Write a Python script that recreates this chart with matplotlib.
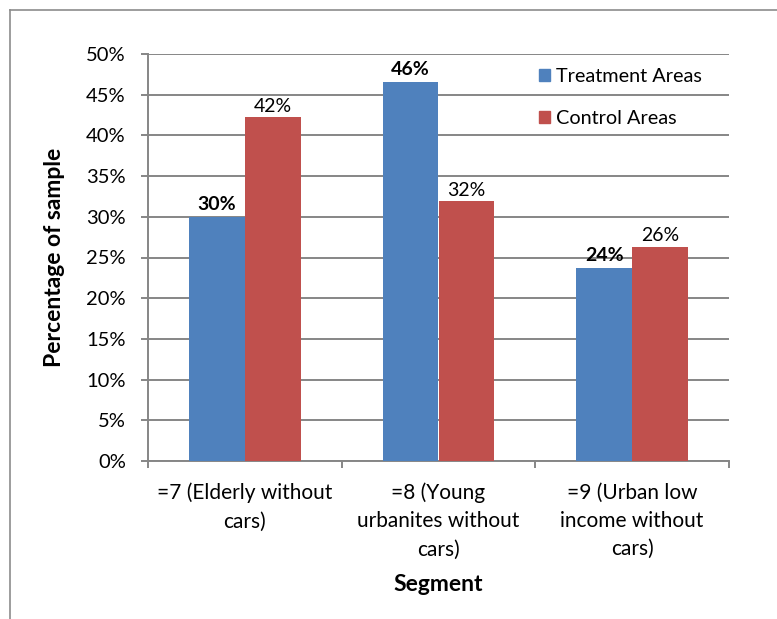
import matplotlib
matplotlib.use("Agg")
import matplotlib.pyplot as plt
from matplotlib.lines import Line2D
from matplotlib.patches import Patch
import numpy as np

plt.rcParams['font.family'] = ['Lato', 'DejaVu Sans']

categories = ["=7 (Elderly without\ncars)",
              "=8 (Young\nurbanites without\ncars)",
              "=9 (Urban low\nincome without\ncars)"]
treatment = [30.0, 46.6, 23.7]
control = [42.2, 31.9, 26.3]
treatment_labels = ["30%", "46%", "24%"]
control_labels = ["42%", "32%", "26%"]
series_names = ["Treatment Areas", "Control Areas"]
y_ticks = [0, 5, 10, 15, 20, 25, 30, 35, 40, 45, 50]

BLUE = "#4F81BD"
RED = "#C0504D"
GRID = "#868686"

W, H = 777, 619
fig = plt.figure(figsize=(W / 100, H / 100), dpi=100)
ax = fig.add_axes([148 / W, 1 - 461 / H, (729 - 148) / W, (461 - 54) / H])

x = np.arange(len(categories))
bw = 0.289
ax.bar(x - bw / 2, treatment, bw, color=BLUE, zorder=3)
ax.bar(x + bw / 2, control, bw, color=RED, zorder=3)

for xi, v, t in zip(x, treatment, treatment_labels):
    ax.annotate(t, (xi - bw / 2, v), xytext=(0, 3), textcoords="offset points",
                ha="center", va="bottom", fontsize=14, fontweight="bold", color="black")
for xi, v, t in zip(x, control, control_labels):
    ax.annotate(t, (xi + bw / 2, v), xytext=(0, 2), textcoords="offset points",
                ha="center", va="bottom", fontsize=14, color="black")

ax.set_xlim(-0.5, len(categories) - 0.5)
ax.set_ylim(0, 50)
ax.set_yticks(y_ticks)
ax.set_yticklabels([f"{t}%" for t in y_ticks], fontsize=14.5)
ax.yaxis.grid(True, color=GRID, linewidth=1.4, zorder=0)
ax.set_axisbelow(True)

# category boundary ticks on the x axis, labels centered in each category
ax.set_xticks(np.arange(len(categories) + 1) - 0.5)
ax.set_xticklabels([])
ax.set_xticks(x, minor=True)
ax.set_xticklabels(categories, minor=True, fontsize=15, linespacing=1.52)
ax.tick_params(axis="x", which="minor", length=0, pad=15.5)
ax.tick_params(axis="x", which="major", length=5, width=1.4, color=GRID)
ax.tick_params(axis="y", length=5, width=1.4, color=GRID, pad=11)

for s in ["top", "right"]:
    ax.spines[s].set_visible(False)
for s in ["left", "bottom"]:
    ax.spines[s].set_color(GRID)
    ax.spines[s].set_linewidth(1.4)

ax.set_ylabel("Percentage of sample", fontsize=16.5, fontweight="bold", labelpad=15)
ax.set_xlabel("Segment", fontsize=16.5, fontweight="bold", labelpad=10)

handles = [Patch(color=BLUE), Patch(color=RED)]
ax.legend(handles, series_names, loc="upper left", bbox_to_anchor=((525 - 148) / (729 - 148), 1.0),
          frameon=False, fontsize=14.3, handlelength=0.55, handleheight=0.55,
          handletextpad=0.3, labelspacing=1.25, borderaxespad=0.3)

# outer chart border (top and left edges)
fig.add_artist(Line2D([10 / W, 1.0], [1 - 10 / H, 1 - 10 / H], color="#8C8C8C", linewidth=1.2))
fig.add_artist(Line2D([10 / W, 10 / W], [0, 1 - 10 / H], color="#8C8C8C", linewidth=1.2))

fig.savefig("out.png", dpi=100)
